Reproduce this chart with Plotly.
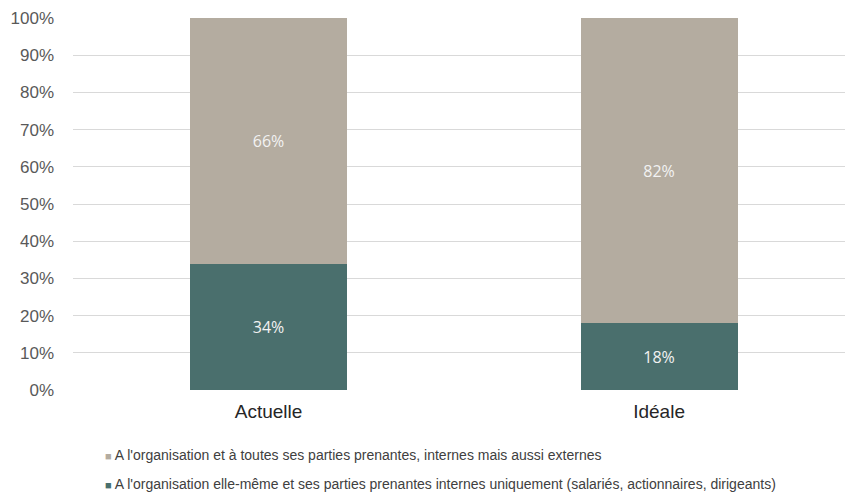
import plotly.graph_objects as go

categories = ["Actuelle", "Idéale"]
internes = [34, 18]
externes = [66, 82]
series_names = [
    "A l'organisation et à toutes ses parties prenantes, internes mais aussi externes",
    "A l'organisation elle-même et ses parties prenantes internes uniquement (salariés, actionnaires, dirigeants)",
]
ytick_vals = list(range(0, 101, 10))
ytick_text = [f"{v}%" for v in ytick_vals]

col_int = "#4A6F6D"
col_ext = "#B4ACA0"

xs = list(range(len(categories)))
fig = go.Figure()
fig.add_bar(x=xs, y=internes, name=series_names[1], marker=dict(color=col_int, line_width=0),
            width=0.402, text=[f"{v}%" for v in internes], textposition="inside",
            insidetextanchor="middle",
            textfont=dict(family="Open Sans", size=16, color="#F2F2F2"), showlegend=False)
fig.add_bar(x=xs, y=externes, name=series_names[0], marker=dict(color=col_ext, line_width=0),
            width=0.402, text=[f"{v}%" for v in externes], textposition="inside",
            insidetextanchor="middle",
            textfont=dict(family="Open Sans", size=16, color="#F2F2F2"), showlegend=False)

fig.update_layout(
    barmode="stack",
    width=845, height=494,
    margin=dict(l=73, r=0, t=18, b=104),
    plot_bgcolor="white", paper_bgcolor="white",
    font=dict(family="Liberation Sans, Arial", color="#595959"),
    xaxis=dict(tickvals=xs, ticktext=categories, range=[-0.5006, 1.476],
               showgrid=False, zeroline=False, showline=False,
               tickfont=dict(size=19, color="#262626"), ticklabelstandoff=8),
    yaxis=dict(range=[0, 100], tickvals=ytick_vals, ticktext=ytick_text,
               showgrid=True, gridcolor="#D9D9D9", gridwidth=1, zeroline=False,
               tickfont=dict(size=17, color="#595959"), ticklabelstandoff=18),
    uniformtext=dict(minsize=8, mode="show"),
)

legend_entries = [(series_names[0], col_ext, 455), (series_names[1], col_int, 484)]
for name, col, ypix in legend_entries:
    fig.add_annotation(
        xref="paper", yref="paper",
        x=(103 - 73) / 772, y=1 - (ypix - 18) / 372,
        xanchor="left", yanchor="middle", showarrow=False,
        text=f"<span style='color:{col}; font-size:11px'>■</span> {name}",
        font=dict(family="Liberation Sans, Arial", size=14, color="#404040"),
    )

fig.write_html("out.html")
